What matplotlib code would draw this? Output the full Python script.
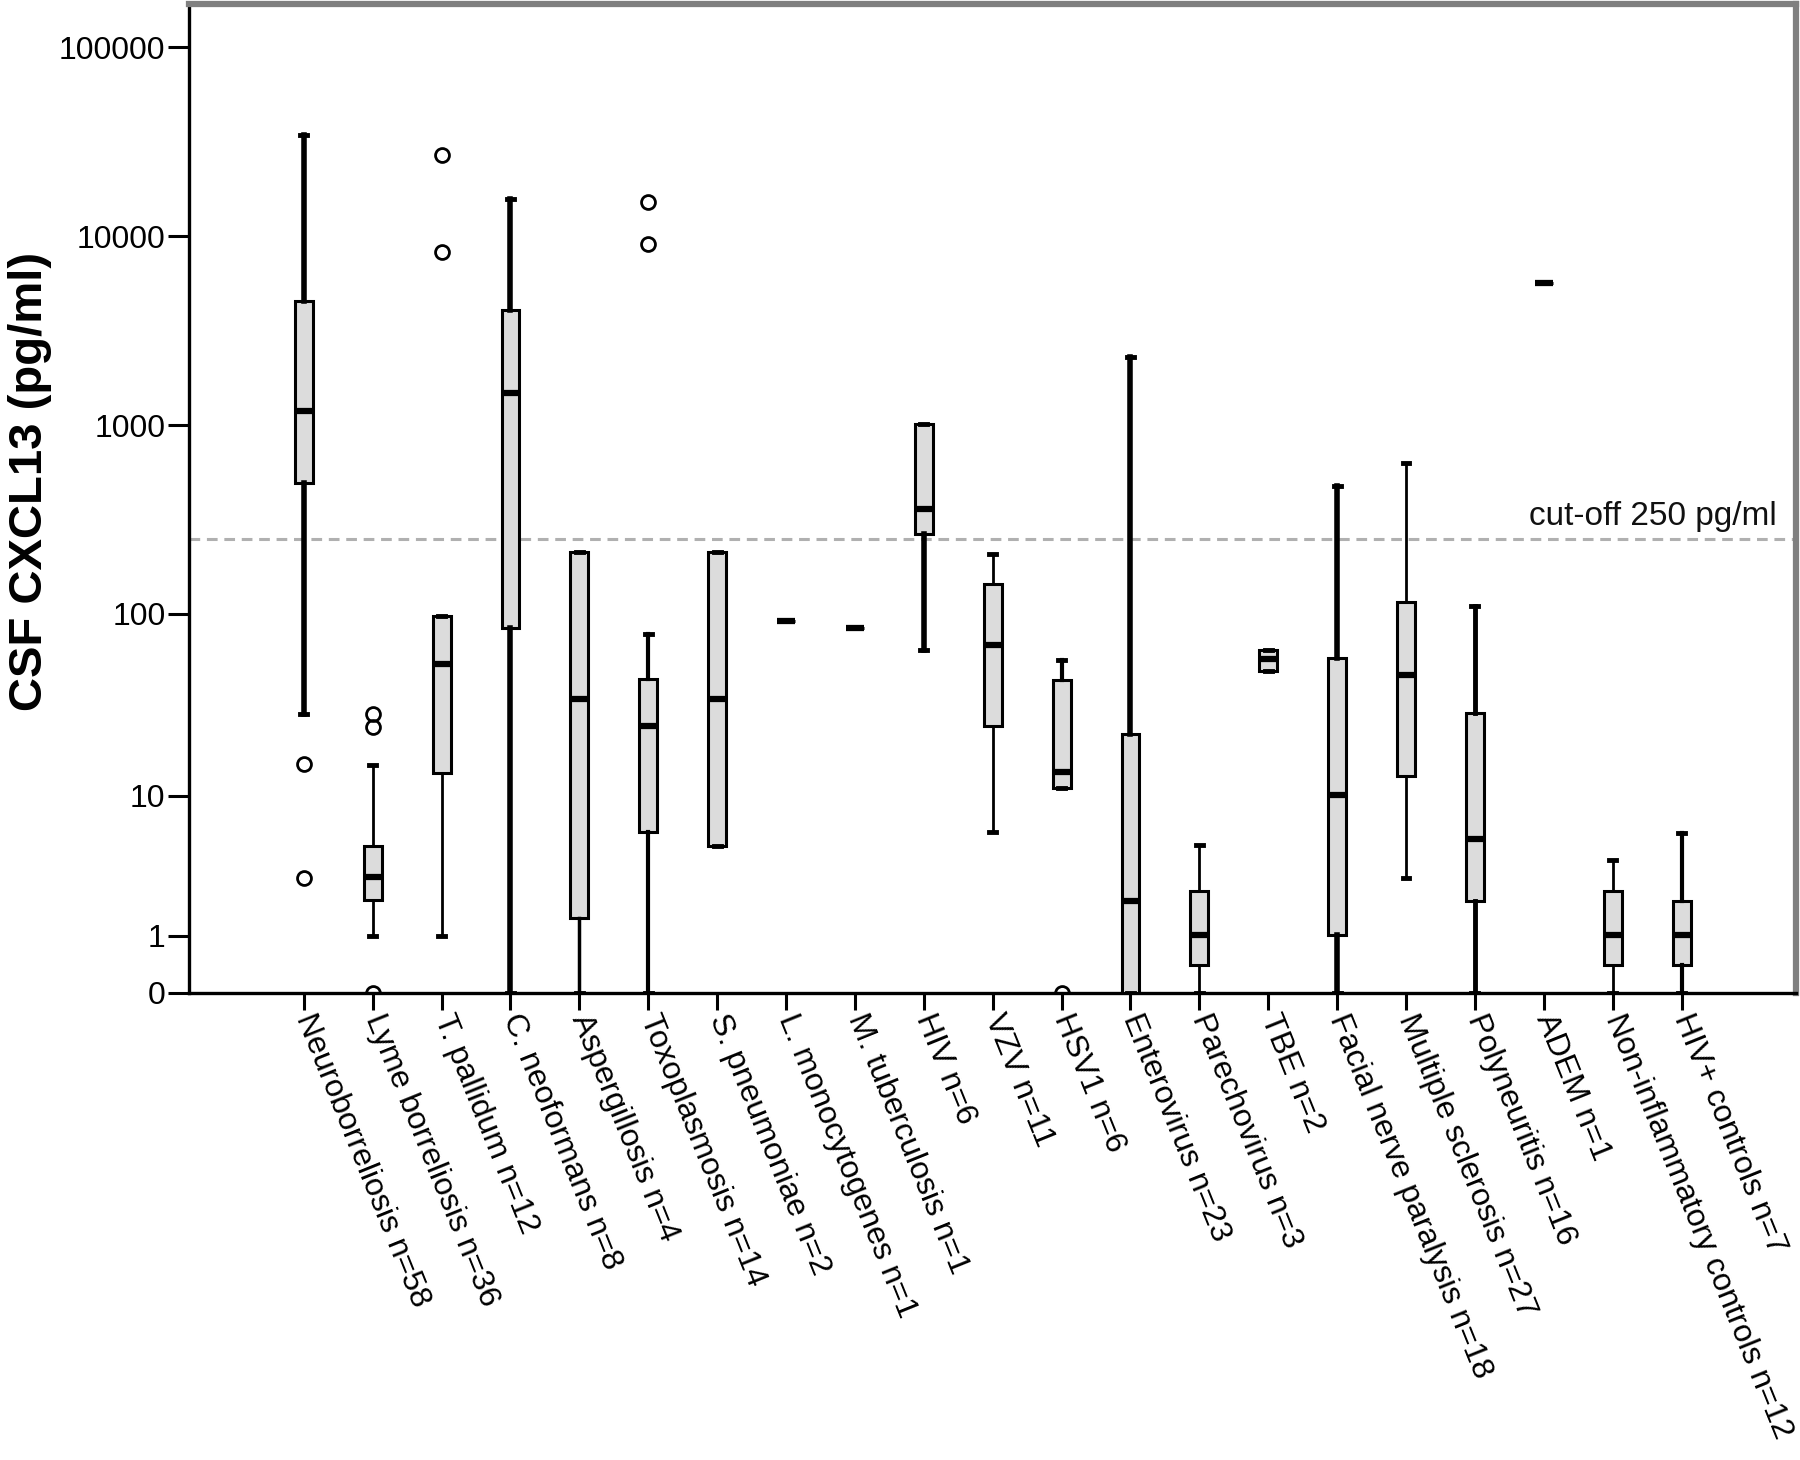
import numpy as np
import matplotlib
matplotlib.use("Agg")
import matplotlib.pyplot as plt
from matplotlib.ticker import NullLocator

plt.rcParams['font.family'] = ['Liberation Sans', 'DejaVu Sans']

categories = ["Neuroborreliosis n=58", "Lyme borreliosis n=36", "T. pallidum n=12",
              "C. neoformans n=8", "Aspergillosis n=4", "Toxoplasmosis n=14",
              "S. pneumoniae n=2", "L. monocytogenes n=1", "M. tuberculosis n=1",
              "HIV n=6", "VZV n=11", "HSV1 n=6", "Enterovirus n=23", "Parechovirus n=3",
              "TBE n=2", "Facial nerve paralysis n=18", "Multiple sclerosis n=27",
              "Polyneuritis n=16", "ADEM n=1", "Non-inflammatory controls n=12",
              "HIV+ controls n=7"]

whislo = [28.9, 1.0, 1.0, 0, 0, 0, 4.95, 92, 83.6, 63.6, 6.09, 11.04, 0, 0, 49.3, 0, 3.07, 0, 5650, 0, 0]
q1 =     [498, 2.08, 13.6, 83.6, 1.5, 6.09, 4.95, 92, 83.6, 265, 24.8, 11.04, 0, 0.41, 49.3, 1.01, 13.0, 2.04, 5650, 0.41, 0.41]
med =    [1190, 3.09, 53.7, 1486, 35, 24.8, 35, 92, 83.6, 360, 68.3, 13.7, 2.04, 1.03, 57.2, 10.07, 47.2, 5.52, 5650, 1.03, 1.03]
q3 =     [4530, 5.0, 97, 4080, 213, 44.9, 213, 92, 83.6, 1012, 144.5, 44.3, 22.3, 2.46, 64.1, 57.7, 115, 29.2, 5650, 2.46, 2.04]
whishi = [34500, 15.1, 97, 15850, 213, 77.9, 213, 92, 83.6, 1020, 208, 56.5, 2292, 5.08, 64.1, 476, 630, 110, 5650, 4.04, 6.03]
outliers = [[15.3, 3.04], [28.9, 24.3, 0], [27000, 8300], [], [], [15200, 9120], [], [], [], [],
            [], [0], [], [], [], [], [], [], [], [], []]

cutoff = 250
ytick_vals = [0, 1, 10, 100, 1000, 10000, 100000]
ytick_labels = ["0", "1", "10", "100", "1000", "10000", "100000"]

# style: whisker thickness per group (points)
whisk_lw = [4, 2, 2, 4, 2.5, 3, 2, 2, 2, 4, 2, 3, 4, 2, 2, 4, 2, 3.5, 2, 2, 3]

fig = plt.figure(figsize=(18, 14.6), dpi=100)
ax = fig.add_axes([0.105, 0.320, 0.893, 0.677])

def fwd(x):
    return np.log10(np.clip(np.asarray(x, dtype=float) + 1, 1e-12, None))

def inv(y):
    return 10 ** np.asarray(y, dtype=float) - 1

ax.set_yscale('function', functions=(fwd, inv))

stats = []
for i in range(len(categories)):
    stats.append(dict(label=categories[i], whislo=whislo[i], q1=q1[i], med=med[i],
                      q3=q3[i], whishi=whishi[i], fliers=np.array(outliers[i], dtype=float)))

pos = np.arange(len(categories))
res = ax.bxp(stats, positions=pos, widths=0.26, patch_artist=True, capwidths=0.1,
             boxprops=dict(facecolor='#dcdcdc', edgecolor='black', linewidth=2.2),
             medianprops=dict(color='black', linewidth=4.5, solid_capstyle='butt'),
             whiskerprops=dict(color='black', linewidth=2),
             capprops=dict(color='black', linewidth=3.5),
             flierprops=dict(marker='o', markerfacecolor='none', markeredgecolor='black',
                             markersize=10, markeredgewidth=2),
             manage_ticks=False, zorder=3)

for i in range(len(categories)):
    for w in res['whiskers'][2 * i:2 * i + 2]:
        w.set_linewidth(whisk_lw[i])

ax.axhline(cutoff, color='#b0b0b0', linewidth=2.2, linestyle=(0, (3.5, 2.2)), zorder=1)
ax.text(0.9876, 295, "cut-off 250 pg/ml", transform=ax.get_yaxis_transform(),
        ha='right', va='baseline', fontsize=24, color='#111111')

ax.set_xlim(-1.667, len(categories) - 1 + 1.667)
ax.set_ylim(0, 168700)

ax.set_yticks(ytick_vals)
ax.set_yticklabels(ytick_labels, fontsize=23)
ax.yaxis.set_minor_locator(NullLocator())
ax.set_xticks(pos)
ax.set_xticklabels(categories, fontsize=23, rotation=-68, ha='left', va='center',
                   rotation_mode='anchor')
ax.tick_params(axis='x', direction='out', length=12, width=2.2, pad=4)
ax.tick_params(axis='y', direction='out', length=15, width=2.2, pad=2)

ax.set_ylabel("CSF CXCL13 (pg/ml)", fontsize=34, fontweight='bold')
ax.yaxis.set_label_coords(-0.085, 0.517)

for s in ['left', 'bottom']:
    ax.spines[s].set_linewidth(2.4)
    ax.spines[s].set_color('black')
for s in ['top', 'right']:
    ax.spines[s].set_linewidth(4.5)
    ax.spines[s].set_color('#7f7f7f')

fig.savefig("out.png", dpi=100, facecolor='white')
